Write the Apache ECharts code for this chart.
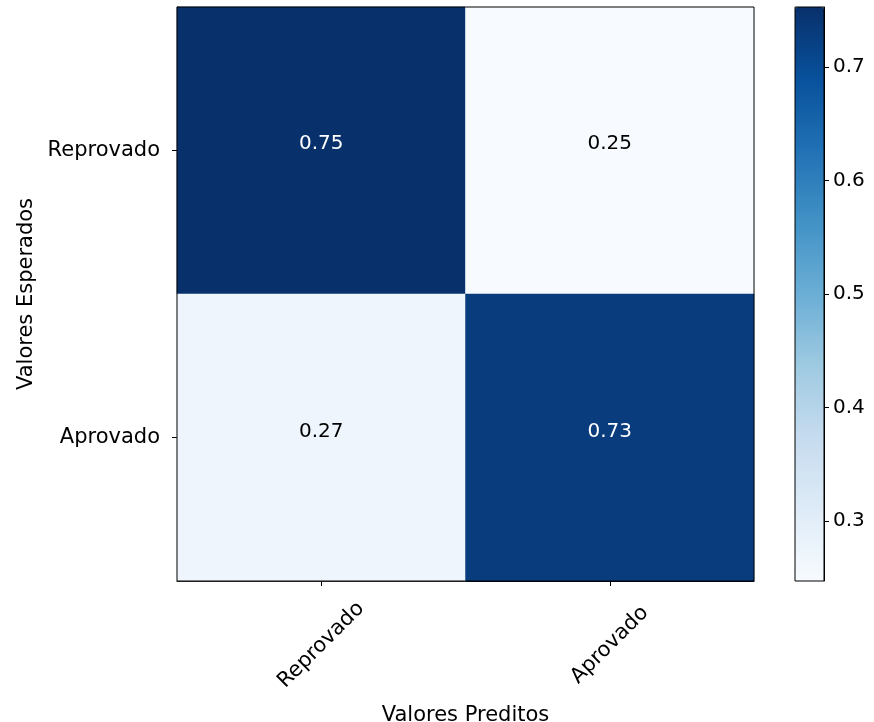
<!DOCTYPE html>
<html>
<head>
<meta charset="utf-8">
<script src="https://cdn.jsdelivr.net/npm/echarts@6/dist/echarts.min.js"></script>
<style>
  html, body { margin: 0; padding: 0; background: #fff; }
  #chart { width: 874px; height: 722px; }
</style>
</head>
<body>
<div id="chart"></div>
<script>
// categories
const predicted = ['Reprovado', 'Aprovado']
const expected = ['Reprovado', 'Aprovado']
// normalized confusion matrix, rows = expected, cols = predicted
const row0 = [0.753, 0.247]
const row1 = [0.27, 0.73]
const matrix = [row0, row1]
// colorbar ticks
const cbTicks = [0.3, 0.4, 0.5, 0.6, 0.7]

const blues = ['#f7fbff', '#deebf7', '#c6dbef', '#9ecae1', '#6baed6', '#4292c6', '#2171b5', '#08519c', '#08306b']
const font = 'DejaVu Sans'

const flat = row0.concat(row1)
const vMin = Math.min(...flat)
const vMax = Math.max(...flat)
const thresh = vMax / 2

const cells = []
matrix.forEach((row, i) => {
  row.forEach((v, j) => {
    cells.push({
      value: [j, i, v],
      label: { color: v > thresh ? '#fff' : '#000', offset: [0, i === 0 ? -7 : -6] }
    })
  })
})

const chart = echarts.init(document.getElementById('chart'))

const option = {
  backgroundColor: '#fff',
  animation: false,
  textStyle: { fontFamily: font },
  grid: [
    { left: 177, top: 7, width: 577, height: 574, show: true, borderColor: '#000', borderWidth: 1, z: 10, outerBoundsMode: 'none', containLabel: false },
    { left: 795, top: 7, width: 29, height: 574, show: true, borderColor: '#000', borderWidth: 1, z: 10, backgroundColor: 'transparent', outerBoundsMode: 'none', containLabel: false }
  ],
  xAxis: [
    {
      type: 'category',
      data: predicted,
      gridIndex: 0,
      name: 'Valores Preditos',
      nameLocation: 'middle',
      nameGap: 124,
      nameTextStyle: { fontSize: 21, color: '#000', fontFamily: font },
      axisLine: { show: true, lineStyle: { color: '#000', width: 1 } },
      axisTick: { show: true, alignWithLabel: true, length: 5, lineStyle: { color: '#000' } },
      axisLabel: {
        rotate: 45,
        align: 'center',
        verticalAlign: 'middle',
        margin: 64,
        fontSize: 21,
        color: '#000',
        fontFamily: font
      },
      splitLine: { show: false }
    },
    {
      type: 'category',
      data: [''],
      gridIndex: 1,
      show: false
    }
  ],
  yAxis: [
    {
      type: 'category',
      data: expected,
      gridIndex: 0,
      inverse: true,
      name: 'Valores Esperados',
      nameLocation: 'middle',
      nameGap: 139,
      nameRotate: 90,
      nameTextStyle: { fontSize: 21, color: '#000', fontFamily: font },
      axisLine: { show: true, lineStyle: { color: '#000', width: 1 } },
      axisTick: { show: true, alignWithLabel: true, length: 5, lineStyle: { color: '#000' } },
      axisLabel: { fontSize: 21, color: '#000', margin: 17, fontFamily: font, padding: [3, 0, 0, 0] },
      splitLine: { show: false }
    },
    {
      type: 'value',
      gridIndex: 1,
      position: 'right',
      min: vMin,
      max: vMax,
      axisLine: { show: true, lineStyle: { color: '#000', width: 1 } },
      axisTick: { show: true, length: 5, lineStyle: { color: '#000' }, customValues: cbTicks },
      axisLabel: {
        show: true,
        fontSize: 20,
        color: '#000',
        margin: 9,
        fontFamily: font,
        customValues: cbTicks,
        formatter: v => v.toFixed(1)
      },
      splitLine: { show: false }
    }
  ],
  visualMap: {
    type: 'continuous',
    min: vMin,
    max: vMax,
    seriesIndex: 0,
    calculable: false,
    orient: 'vertical',
    left: 795,
    top: 7,
    padding: 0,
    itemWidth: 29,
    itemHeight: 574,
    text: null,
    showLabel: false,
    inRange: { color: blues }
  },
  series: [
    {
      type: 'heatmap',
      xAxisIndex: 0,
      yAxisIndex: 0,
      data: cells,
      label: {
        show: true,
        fontSize: 20,
        fontFamily: font,
        formatter: p => p.value[2].toFixed(2)
      },
      emphasis: { disabled: true }
    }
  ]
}

chart.setOption(option)
</script>
</body>
</html>
